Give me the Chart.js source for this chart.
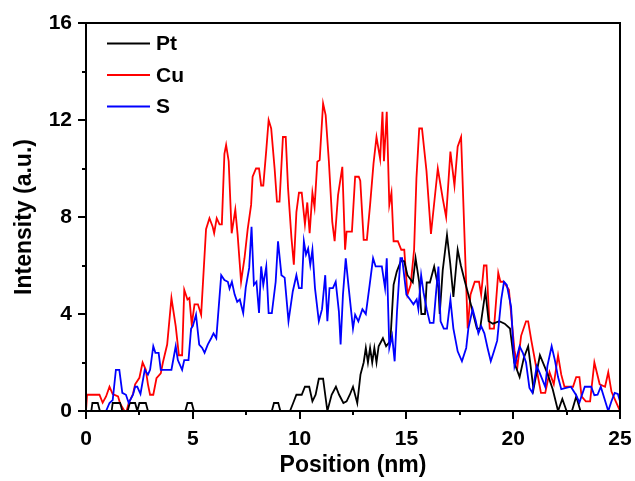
<!DOCTYPE html>
<html>
<head>
<meta charset="utf-8">
<script src="https://cdn.jsdelivr.net/npm/chart.js@4/dist/chart.umd.min.js"></script>
<style>
  html, body { margin: 0; padding: 0; background: #fff; }
  #c { display: block; }
</style>
</head>
<body>
<canvas id="c" width="635" height="481"></canvas>
<script>
// ---- Data (position in nm, intensity in a.u.) ----
const seriesNames = ['Pt', 'Cu', 'S'];
const seriesColors = ['#000000', '#ff0000', '#0000ff'];
const xTicks = [0, 5, 10, 15, 20, 25];
const yTicks = [0, 4, 8, 12, 16];

const ptPoints = [[0,0],[0.25,0],[0.3,0.33],[0.55,0.33],[0.65,0],[1.2,0],[1.25,0.33],[1.6,0.33],[1.7,0],[1.95,0],[2.05,0.33],[2.3,0.33],[2.4,0],[2.5,0.33],[2.8,0.33],[2.9,0],[4.65,0],[4.75,0.33],[4.95,0.33],[5.05,0],[8.7,0],[8.8,0.33],[9.0,0.33],[9.1,0],[9.55,0],[9.7,0.33],[9.85,0.67],[10.1,0.67],[10.25,1.0],[10.45,1.0],[10.6,0.4],[10.75,0.67],[10.9,1.33],[11.1,1.33],[11.3,0],[11.5,0.67],[11.7,1.0],[11.85,0.67],[12.05,0.33],[12.2,0.4],[12.35,0.67],[12.5,1.0],[12.7,0.33],[12.85,1.5],[13.0,2.0],[13.1,2.6],[13.2,2.0],[13.3,2.6],[13.4,2.0],[13.5,2.6],[13.6,2.0],[13.7,2.67],[13.9,3.0],[14.05,2.67],[14.25,2.9],[14.4,5.2],[14.55,5.75],[14.75,6.2],[14.9,6.17],[15.05,5.6],[15.3,5.3],[15.43,6.3],[15.6,5.3],[15.7,4.0],[15.87,4.0],[15.95,5.3],[16.1,5.3],[16.3,5.96],[16.5,5.07],[16.56,4.0],[16.7,5.8],[16.9,7.26],[17.05,6.1],[17.2,4.7],[17.4,6.65],[17.55,6.0],[17.75,5.3],[17.9,4.8],[18.1,4.1],[18.3,3.4],[18.45,3.4],[18.7,4.93],[18.85,3.7],[19.05,3.6],[19.35,3.7],[19.6,3.6],[19.85,3.4],[20.05,2.0],[20.3,1.4],[20.5,2.2],[20.7,2.67],[20.95,0.9],[21.25,2.3],[21.6,1.55],[21.85,0.9],[22.1,0],[22.3,0.5],[22.5,0],[22.75,0],[22.95,0.6],[23.15,0],[25,0]];

const cuPoints = [[0,0],[0.05,0.67],[0.63,0.67],[0.78,0.34],[0.94,0.6],[1.1,1.0],[1.25,0.7],[1.5,0.6],[1.6,0.3],[1.8,0],[1.9,0],[2.0,0.33],[2.2,0.7],[2.3,1.1],[2.5,1.37],[2.65,2.0],[2.8,1.7],[2.9,1.1],[3.0,0.67],[3.15,0.67],[3.3,1.35],[3.5,1.55],[3.6,2.0],[3.8,2.74],[4.0,4.66],[4.2,3.5],[4.35,2.3],[4.5,2.3],[4.6,5.0],[4.75,4.6],[4.84,4.66],[4.95,3.56],[5.08,4.4],[5.24,4.4],[5.39,3.97],[5.62,7.5],[5.78,7.95],[5.93,7.6],[6.0,7.33],[6.12,7.95],[6.25,7.7],[6.36,7.7],[6.48,10.6],[6.56,10.97],[6.68,10.3],[6.82,7.33],[6.99,8.3],[7.1,7.25],[7.26,5.33],[7.42,6.3],[7.57,7.5],[7.73,8.5],[7.8,9.66],[7.96,10.0],[8.1,10.0],[8.2,9.3],[8.3,9.3],[8.44,10.76],[8.55,12.0],[8.67,11.65],[8.83,10.0],[8.94,8.63],[9.06,8.63],[9.22,11.3],[9.35,11.3],[9.46,9.18],[9.62,7.13],[9.73,6.03],[9.85,8.2],[9.97,9.0],[10.1,9.0],[10.25,7.7],[10.36,8.6],[10.47,7.33],[10.6,9.0],[10.7,8.4],[10.83,10.28],[10.94,10.35],[11.1,12.68],[11.22,12.2],[11.37,10.3],[11.53,7.8],[11.64,7.0],[11.8,8.9],[12.0,10.07],[12.13,6.65],[12.2,7.4],[12.45,7.4],[12.6,9.66],[12.77,9.66],[12.84,9.5],[13.0,7.06],[13.15,7.06],[13.3,8.5],[13.46,10.2],[13.6,11.3],[13.77,10.4],[13.88,12.34],[13.95,10.3],[14.08,12.34],[14.2,8.5],[14.3,9.0],[14.4,7.0],[14.6,7.0],[14.76,6.65],[14.9,6.65],[15.05,4.8],[15.2,5.2],[15.36,6.65],[15.47,9.6],[15.6,11.65],[15.73,11.65],[15.94,9.9],[16.15,7.3],[16.47,10.0],[16.7,8.77],[16.86,8.0],[17.06,10.7],[17.25,9.3],[17.4,10.9],[17.56,11.3],[17.87,3.4],[18.0,4.8],[18.2,5.33],[18.4,5.33],[18.5,4.8],[18.63,6.0],[18.75,6.0],[18.9,3.4],[19.1,3.4],[19.3,5.7],[19.4,5.33],[19.55,5.33],[19.8,5.0],[20.06,2.5],[20.2,1.85],[20.37,3.1],[20.6,3.7],[20.7,3.7],[20.85,2.9],[21.1,1.7],[21.3,0.75],[21.5,0.75],[21.7,1.6],[21.9,1.1],[22.1,2.3],[22.25,1.5],[22.4,1.0],[22.8,1.0],[22.95,1.4],[23.1,1.4],[23.2,0.6],[23.4,0.4],[23.6,0.4],[23.8,2.0],[24.05,1.1],[24.3,1.0],[24.45,1.6],[24.6,0.8],[24.8,0.4],[25.0,0]];

const sPoints = [[0,0],[0.94,0],[1.1,0.33],[1.25,0.45],[1.4,1.7],[1.56,1.7],[1.7,0.75],[1.87,0.67],[2.0,0.33],[2.2,0.67],[2.3,1.0],[2.4,1.0],[2.55,0.7],[2.75,1.7],[2.9,1.5],[3.0,1.7],[3.15,2.67],[3.25,2.4],[3.4,2.4],[3.5,1.7],[4.0,1.7],[4.2,2.67],[4.3,2.1],[4.5,1.7],[4.6,2.1],[4.8,2.1],[4.92,3.4],[5.0,3.5],[5.15,3.97],[5.3,2.74],[5.44,2.6],[5.55,2.4],[5.7,2.74],[5.86,3.0],[5.97,3.2],[6.1,3.0],[6.33,5.6],[6.48,5.4],[6.64,5.33],[6.72,5.05],[6.83,5.33],[6.96,4.8],[7.08,4.5],[7.2,4.6],[7.36,4.04],[7.48,5.1],[7.64,5.9],[7.75,7.6],[7.86,5.2],[7.98,5.33],[8.1,4.04],[8.2,5.96],[8.3,5.2],[8.44,5.96],[8.55,4.04],[8.7,4.04],[8.88,5.33],[8.99,7.0],[9.15,5.6],[9.3,5.5],[9.48,3.7],[9.68,4.93],[9.85,5.6],[9.97,5.07],[10.1,5.07],[10.2,7.0],[10.3,6.45],[10.4,6.7],[10.5,6.03],[10.6,6.65],[10.72,5.07],[10.9,3.7],[11.05,4.2],[11.2,5.6],[11.3,3.7],[11.4,5.07],[11.56,5.07],[11.69,5.33],[11.84,4.1],[11.92,2.74],[12.03,4.8],[12.16,6.3],[12.3,5.07],[12.5,3.4],[12.6,3.97],[12.75,3.7],[12.94,4.2],[13.1,4.0],[13.28,5.2],[13.44,6.3],[13.56,5.96],[13.85,5.96],[14.0,5.07],[14.08,6.3],[14.2,2.6],[14.33,3.1],[14.45,2.05],[14.56,4.1],[14.72,6.3],[14.8,6.3],[15.0,4.8],[15.17,4.6],[15.33,4.4],[15.48,4.6],[15.56,4.2],[15.69,5.6],[15.8,4.9],[15.95,4.2],[16.1,3.63],[16.27,3.63],[16.38,4.8],[16.5,5.96],[16.6,3.7],[16.75,3.4],[16.9,3.4],[17.06,4.6],[17.2,3.4],[17.4,2.46],[17.6,2.05],[17.8,2.6],[17.9,3.4],[18.1,4.2],[18.25,3.7],[18.37,3.2],[18.5,3.5],[18.65,3.2],[18.8,2.6],[18.95,2.05],[19.1,2.46],[19.25,2.9],[19.44,4.6],[19.57,5.33],[19.7,5.2],[19.9,4.3],[20.06,1.85],[20.3,2.67],[20.45,2.4],[20.6,2.0],[20.76,0.95],[20.9,0.75],[21.1,1.85],[21.25,1.55],[21.5,1.0],[21.6,1.85],[21.8,2.67],[21.95,2.1],[22.1,1.4],[22.25,0.9],[22.7,1.0],[22.95,0.65],[23.1,0.35],[23.35,1.0],[23.65,1.0],[23.8,0.65],[23.95,0.67],[24.1,1.0],[24.45,0],[24.6,0.4],[24.75,0.75],[24.9,0.7],[25.0,0.4]];

const seriesPoints = [ptPoints, cuPoints, sPoints];
const drawOrder = [2, 3, 1]; // S on top

const FONT = '"Liberation Sans", Arial, Helvetica, sans-serif';

// Frame, outward ticks (major + minor) and legend
const decorPlugin = {
  id: 'decor',
  afterDraw(chart) {
    const {ctx, chartArea: a, scales} = chart;
    const xs = scales.x, ys = scales.y;
    ctx.save();
    ctx.strokeStyle = '#000';
    ctx.lineWidth = 2;
    ctx.lineCap = 'butt';
    ctx.beginPath();
    for (let v = 0; v <= 25.001; v += 2.5) {
      const px = Math.round(xs.getPixelForValue(v));
      const major = Math.abs(v / 5 - Math.round(v / 5)) < 1e-6;
      ctx.moveTo(px, a.bottom);
      ctx.lineTo(px, a.bottom + (major ? 8 : 4));
    }
    for (let v = 0; v <= 16.001; v += 2) {
      const py = Math.round(ys.getPixelForValue(v));
      const major = v % 4 === 0;
      ctx.moveTo(a.left, py);
      ctx.lineTo(a.left - (major ? 8 : 4), py);
    }
    ctx.stroke();
    ctx.strokeRect(a.left, a.top, a.right - a.left, a.bottom - a.top);
    const lx0 = 107, lx1 = 150, ly0 = 43.5, step = 31.5;
    chart.data.datasets.forEach((ds, i) => {
      const y = ly0 + i * step;
      ctx.strokeStyle = ds.borderColor;
      ctx.lineWidth = 2;
      ctx.beginPath();
      ctx.moveTo(lx0, y);
      ctx.lineTo(lx1, y);
      ctx.stroke();
      ctx.fillStyle = '#000';
      ctx.font = 'bold 21px ' + FONT;
      ctx.textBaseline = 'middle';
      ctx.textAlign = 'left';
      ctx.fillText(ds.label, 156, y + 1);
    });
    ctx.restore();
  }
};

new Chart(document.getElementById('c'), {
  type: 'line',
  data: {
    datasets: seriesNames.map((name, i) => ({
      label: name,
      data: seriesPoints[i].map(([x, y]) => ({x, y})),
      borderColor: seriesColors[i],
      backgroundColor: seriesColors[i],
      borderWidth: 1.8,
      pointRadius: 0,
      tension: 0,
      fill: false,
      order: drawOrder[i]
    }))
  },
  options: {
    responsive: false,
    animation: false,
    devicePixelRatio: 1,
    layout: { padding: { top: 23, right: 15, left: 0, bottom: 0 } },
    plugins: { legend: { display: false }, tooltip: { enabled: false } },
    scales: {
      x: {
        type: 'linear',
        min: 0, max: 25,
        afterBuildTicks(scale) { scale.ticks = xTicks.map(v => ({value: v})); },
        afterFit(scale) { scale.height = 70; scale.paddingLeft = 0; scale.paddingRight = 0; },
        grid: { display: false, drawTicks: false },
        border: { display: false },
        ticks: { color: '#000', padding: 16, maxRotation: 0, font: { family: FONT, size: 21, weight: 'bold' } },
        title: { display: true, text: 'Position (nm)', color: '#000', padding: { top: 0, bottom: 2 }, font: { family: FONT, size: 23, weight: 'bold' } }
      },
      y: {
        type: 'linear',
        min: 0, max: 16,
        afterBuildTicks(scale) { scale.ticks = yTicks.map(v => ({value: v})); },
        afterFit(scale) { scale.width = 86; scale.paddingTop = 0; scale.paddingBottom = 0; },
        grid: { display: false, drawTicks: false },
        border: { display: false },
        ticks: { color: '#000', padding: 14, font: { family: FONT, size: 21, weight: 'bold' } },
        title: { display: true, text: 'Intensity (a.u.)', color: '#000', padding: { top: 11, bottom: 0 }, font: { family: FONT, size: 23, weight: 'bold' } }
      }
    }
  },
  plugins: [decorPlugin]
});
</script>
</body>
</html>
